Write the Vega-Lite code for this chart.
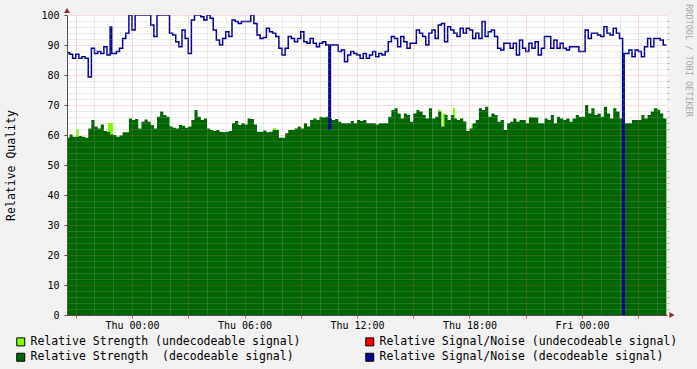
{
  "$schema": "https://vega.github.io/schema/vega-lite/v6.json",
  "width": 600,
  "height": 300,
  "autosize": {"type": "none"},
  "padding": {"left": 67, "top": 15, "right": 30, "bottom": 54},
  "background": "#f2f2f2",
  "config": {
    "view": {"fill": "#ffffff", "strokeWidth": 0},
    "axis": {"labelFont": "DejaVu Sans Mono", "titleFont": "DejaVu Sans Mono", "labelColor": "#000000", "titleColor": "#000000", "titleFontWeight": "normal"}
  },
  "datasets": {
    "quality": [
      {"t":1230,"s":59.1,"n":87.4},{"t":1240,"s":60.2,"n":86.9},{"t":1250,"s":59.4,"n":85.6},
      {"t":1260,"s":59.4,"n":86.9},{"t":1270,"s":59.7,"n":85.6},{"t":1280,"s":59.4,"n":86.1},
      {"t":1290,"s":59.1,"n":85.6},{"t":1300,"s":62.2,"n":79.3},{"t":1310,"s":65.0,"n":88.9},
      {"t":1320,"s":62.8,"n":87.2},{"t":1330,"s":62.2,"n":87.8},{"t":1340,"s":63.5,"n":87.2},
      {"t":1350,"s":61.3,"n":89.4},{"t":1360,"s":61.1,"n":86.7},{"t":1370,"s":60.2,"n":96.0},
      {"t":1375,"s":60.2,"n":87.2},
      {"t":1380,"s":60.0,"n":87.2},{"t":1390,"s":59.4,"n":87.8},{"t":1400,"s":59.8,"n":88.9},
      {"t":1410,"s":60.9,"n":92.2},{"t":1420,"s":60.9,"n":93.9},{"t":1430,"s":65.5,"n":100},
      {"t":1440,"s":65.0,"n":95.0},{"t":1450,"s":65.3,"n":100},{"t":1460,"s":62.2,"n":100},
      {"t":1470,"s":64.4,"n":100},{"t":1480,"s":65.2,"n":100},{"t":1490,"s":64.4,"n":100},
      {"t":1500,"s":63.3,"n":96.7},{"t":1510,"s":62.2,"n":92.8},{"t":1520,"s":66.1,"n":100},
      {"t":1530,"s":67.8,"n":100},{"t":1540,"s":66.7,"n":100},{"t":1550,"s":66.1,"n":100},
      {"t":1560,"s":62.8,"n":93.9},{"t":1570,"s":62.4,"n":93.3},{"t":1580,"s":62.2,"n":91.1},
      {"t":1590,"s":63.3,"n":89.4},{"t":1600,"s":63.1,"n":95.0},{"t":1610,"s":62.4,"n":92.2},
      {"t":1620,"s":62.8,"n":87.2},{"t":1630,"s":65.0,"n":98.3},{"t":1640,"s":68.3,"n":100},
      {"t":1650,"s":66.1,"n":100},{"t":1660,"s":65.0,"n":99.4},{"t":1670,"s":65.5,"n":98.3},
      {"t":1680,"s":62.2,"n":100},{"t":1690,"s":61.7,"n":98.9},{"t":1700,"s":61.3,"n":95.0},
      {"t":1710,"s":61.7,"n":91.7},{"t":1720,"s":61.1,"n":90.0},{"t":1730,"s":60.9,"n":92.2},
      {"t":1740,"s":61.1,"n":94.4},{"t":1750,"s":61.3,"n":92.8},{"t":1760,"s":63.9,"n":98.3},
      {"t":1770,"s":64.7,"n":97.8},{"t":1780,"s":63.3,"n":97.2},{"t":1790,"s":63.9,"n":97.8},
      {"t":1800,"s":63.5,"n":97.8},{"t":1810,"s":65.5,"n":97.8},{"t":1820,"s":65.3,"n":100},
      {"t":1830,"s":63.5,"n":97.2},{"t":1840,"s":61.1,"n":93.3},{"t":1850,"s":61.1,"n":92.2},
      {"t":1860,"s":61.5,"n":92.5},{"t":1870,"s":60.9,"n":95.6},{"t":1880,"s":61.1,"n":94.4},
      {"t":1890,"s":61.7,"n":93.9},{"t":1900,"s":61.7,"n":92.8},{"t":1910,"s":59.1,"n":88.9},
      {"t":1920,"s":59.1,"n":86.7},{"t":1930,"s":60.6,"n":88.9},{"t":1940,"s":61.7,"n":92.8},
      {"t":1950,"s":61.7,"n":92.2},{"t":1960,"s":62.2,"n":91.1},{"t":1970,"s":62.8,"n":92.2},
      {"t":1980,"s":62.2,"n":94.4},{"t":1990,"s":63.9,"n":91.1},{"t":2000,"s":62.8,"n":90.6},
      {"t":2010,"s":65.0,"n":92.2},{"t":2020,"s":65.5,"n":90.6},{"t":2030,"s":65.0,"n":89.4},
      {"t":2040,"s":66.1,"n":90.6},{"t":2050,"s":65.8,"n":91.1},{"t":2060,"s":66.1,"n":90.0},
      {"t":2070,"s":65.5,"n":62.0},{"t":2075,"s":65.5,"n":90.0},
      {"t":2080,"s":65.0,"n":90.0},{"t":2090,"s":65.3,"n":90.0},
      {"t":2100,"s":64.4,"n":87.8},{"t":2110,"s":63.9,"n":88.3},{"t":2120,"s":63.9,"n":84.4},
      {"t":2130,"s":63.9,"n":86.7},{"t":2140,"s":64.7,"n":87.8},{"t":2150,"s":63.9,"n":87.2},
      {"t":2160,"s":65.0,"n":86.7},{"t":2170,"s":64.7,"n":85.6},{"t":2180,"s":65.0,"n":87.2},
      {"t":2190,"s":63.9,"n":85.6},{"t":2200,"s":63.9,"n":86.7},{"t":2210,"s":63.9,"n":87.8},
      {"t":2220,"s":63.5,"n":86.1},{"t":2230,"s":63.9,"n":87.2},{"t":2240,"s":63.9,"n":86.7},
      {"t":2250,"s":63.9,"n":87.8},{"t":2260,"s":66.1,"n":91.1},{"t":2270,"s":68.3,"n":92.8},
      {"t":2280,"s":68.9,"n":92.2},{"t":2290,"s":67.2,"n":89.4},{"t":2300,"s":65.5,"n":92.8},
      {"t":2310,"s":67.2,"n":91.1},{"t":2320,"s":66.7,"n":88.9},{"t":2330,"s":64.4,"n":90.6},
      {"t":2340,"s":67.2,"n":90.6},{"t":2350,"s":68.3,"n":95.0},{"t":2360,"s":67.8,"n":93.9},
      {"t":2370,"s":66.7,"n":92.8},{"t":2380,"s":65.5,"n":90.0},{"t":2390,"s":68.9,"n":93.9},
      {"t":2400,"s":65.5,"n":95.0},{"t":2410,"s":66.1,"n":92.2},{"t":2420,"s":67.8,"n":96.7},
      {"t":2430,"s":62.8,"n":97.2},{"t":2440,"s":66.7,"n":91.1},{"t":2450,"s":65.0,"n":96.1},
      {"t":2460,"s":66.7,"n":95.0},{"t":2470,"s":65.5,"n":93.9},{"t":2480,"s":65.0,"n":92.8},
      {"t":2490,"s":65.5,"n":95.6},{"t":2500,"s":64.5,"n":93.9},{"t":2510,"s":61.3,"n":95.6},
      {"t":2520,"s":62.2,"n":95.0},{"t":2530,"s":63.9,"n":92.2},{"t":2540,"s":65.0,"n":93.9},
      {"t":2550,"s":68.9,"n":92.2},{"t":2560,"s":68.3,"n":97.8},{"t":2570,"s":69.4,"n":92.8},
      {"t":2580,"s":66.1,"n":94.4},{"t":2590,"s":67.2,"n":95.0},{"t":2600,"s":66.7,"n":92.8},
      {"t":2610,"s":64.4,"n":88.9},{"t":2620,"s":65.0,"n":88.3},{"t":2630,"s":61.7,"n":90.6},
      {"t":2640,"s":63.9,"n":90.6},{"t":2650,"s":64.4,"n":88.9},{"t":2660,"s":65.5,"n":90.6},
      {"t":2670,"s":64.4,"n":86.7},{"t":2680,"s":65.0,"n":91.7},{"t":2690,"s":65.0,"n":88.9},
      {"t":2700,"s":63.9,"n":87.8},{"t":2710,"s":65.8,"n":90.6},{"t":2720,"s":65.8,"n":88.9},
      {"t":2730,"s":65.8,"n":91.1},{"t":2740,"s":63.9,"n":86.7},{"t":2750,"s":63.9,"n":88.9},
      {"t":2760,"s":65.5,"n":92.8},{"t":2770,"s":65.0,"n":92.8},{"t":2780,"s":66.7,"n":88.9},
      {"t":2790,"s":63.9,"n":91.7},{"t":2800,"s":66.1,"n":88.9},{"t":2810,"s":65.5,"n":90.6},
      {"t":2820,"s":65.0,"n":88.9},{"t":2830,"s":65.5,"n":88.3},{"t":2840,"s":64.4,"n":89.4},
      {"t":2850,"s":65.5,"n":89.4},{"t":2860,"s":66.7,"n":89.4},{"t":2870,"s":66.1,"n":87.8},
      {"t":2880,"s":66.1,"n":87.8},{"t":2890,"s":70.0,"n":95.0},{"t":2900,"s":67.2,"n":92.2},
      {"t":2910,"s":68.9,"n":93.9},{"t":2920,"s":66.7,"n":93.9},{"t":2930,"s":67.2,"n":93.3},
      {"t":2940,"s":66.1,"n":92.8},{"t":2950,"s":69.4,"n":96.1},{"t":2960,"s":67.2,"n":93.9},
      {"t":2970,"s":65.5,"n":93.3},{"t":2980,"s":68.9,"n":95.6},{"t":2990,"s":67.8,"n":93.9},
      {"t":3000,"s":65.5,"n":92.2},{"t":3010,"s":63.9,"n":0},{"t":3015,"s":63.9,"n":87.2},
      {"t":3020,"s":63.9,"n":87.2},
      {"t":3030,"s":63.9,"n":88.3},{"t":3040,"s":65.0,"n":86.1},{"t":3050,"s":65.0,"n":88.3},
      {"t":3060,"s":65.0,"n":87.8},{"t":3070,"s":66.7,"n":86.1},{"t":3080,"s":65.5,"n":89.4},
      {"t":3090,"s":66.7,"n":92.2},{"t":3100,"s":67.8,"n":89.4},{"t":3110,"s":68.9,"n":92.2},
      {"t":3120,"s":68.3,"n":92.2},{"t":3130,"s":67.2,"n":91.7},{"t":3140,"s":65.5,"n":90.0},
      {"t":3150,"s":65.5,"n":90.0}
    ],
    "undecodeable": [
      {"t":1262,"t2":1269,"u":62.0},
      {"t":1363,"t2":1379,"u":64.0},
      {"t":1891,"t2":1901,"u":62.3},
      {"t":2419,"t2":2426,"u":68.5},
      {"t":2434,"t2":2446,"u":67.2},
      {"t":2467,"t2":2474,"u":69.0},
      {"t":2490,"t2":2499,"u":65.6},
      {"t":2526,"t2":2533,"u":63.6},
      {"t":2712,"t2":2718,"u":66.2},
      {"t":3117,"t2":3125,"u":68.9}
    ]
  },
  "resolve": {"axis": {"x": "independent", "y": "independent"}},
  "layer": [
    {
      "data": {"name": "undecodeable"},
      "mark": {"type": "rect", "clip": true},
      "encoding": {
        "x": {"field": "t", "type": "quantitative", "axis": null, "scale": {"domain": [1232, 3152], "nice": false, "zero": false}},
        "x2": {"field": "t2"},
        "y": {"field": "u", "type": "quantitative", "axis": null, "scale": {"domain": [0, 100], "nice": false}},
        "y2": {"datum": 0},
        "color": {"datum": "Relative Strength (undecodeable signal)"}
      }
    },
    {
      "data": {"name": "quality"},
      "mark": {"type": "area", "interpolate": "step-after", "clip": true, "opacity": 1},
      "encoding": {
        "x": {"field": "t", "type": "quantitative",
              "scale": {"domain": [1232, 3152], "nice": false, "zero": false},
              "axis": {"orient": "bottom", "title": null,
                       "values": [1260, 1440, 1620, 1800, 1980, 2160, 2340, 2520, 2700, 2880, 3060],
                       "labelExpr": "datum.value % 360 == 0 ? (['Wed','Thu','Fri'][floor(datum.value / 1440)] + ' ' + (floor((datum.value % 1440) / 60) < 10 ? '0' : '') + floor((datum.value % 1440) / 60) + ':00') : ''",
                       "labelOverlap": false, "labelFlush": false,
                       "labelFontSize": 10, "labelPadding": 2,
                       "grid": true, "gridColor": "#e06060", "gridOpacity": 0.45, "gridDash": [1, 1],
                       "tickColor": "#e06060", "tickSize": 3,
                       "domainColor": "#505050", "zindex": 1}},
        "y": {"field": "s", "type": "quantitative",
              "scale": {"domain": [0, 100], "nice": false},
              "axis": {"orient": "left", "title": "Relative Quality",
                       "values": [0, 10, 20, 30, 40, 50, 60, 70, 80, 90, 100],
                       "labelFontSize": 10, "labelPadding": 5,
                       "grid": true, "gridColor": "#e06060", "gridOpacity": 0.45, "gridDash": [1, 1],
                       "tickColor": "#505050", "tickSize": 3, "domainColor": "#505050",
                       "titleFontSize": 11.5, "titleX": -56, "titleY": 150, "titleAngle": -90,
                       "titleAlign": "center", "titleBaseline": "middle", "zindex": 1}},
        "color": {"datum": "Relative Strength \u00a0(decodeable signal)",
                  "scale": {"domain": ["Relative Strength (undecodeable signal)", "Relative Strength \u00a0(decodeable signal)", "Relative Signal/Noise (undecodeable signal)", "Relative Signal/Noise (decodeable signal)"],
                            "range": ["#80ff00", "#006600", "#ff0000", "#000099"]},
                  "legend": {"orient": "none", "legendX": -52, "legendY": 321, "columns": 2,
                             "columnPadding": 62, "rowPadding": 2.5, "title": null,
                             "symbolType": "square", "symbolSize": 64,
                             "symbolStrokeColor": "#000000", "symbolStrokeWidth": 1, "symbolOpacity": 1,
                             "labelFont": "DejaVu Sans Mono", "labelFontSize": 11.5, "labelColor": "#000000",
                             "labelLimit": 500, "labelOffset": 4, "padding": 0}}
      }
    },
    {
      "data": {"name": "quality"},
      "mark": {"type": "line", "interpolate": "step-after", "clip": true, "color": "#000099", "strokeWidth": 1.5},
      "encoding": {
        "x": {"field": "t", "type": "quantitative",
              "scale": {"domain": [1232, 3152], "nice": false, "zero": false},
              "axis": {"orient": "top", "title": null, "labels": false, "ticks": false, "domain": false,
                       "values": [1320, 1380, 1500, 1560, 1680, 1740, 1860, 1920, 2040, 2100, 2220, 2280, 2400, 2460, 2580, 2640, 2760, 2820, 2940, 3000, 3120],
                       "grid": true, "gridColor": "#a8a8a8", "gridOpacity": 0.45, "gridDash": [1, 1], "zindex": 1}},
        "y": {"field": "n", "type": "quantitative",
              "scale": {"domain": [0, 100], "nice": false},
              "axis": {"orient": "right", "title": "RRDTOOL / TOBI OETIKER", "labels": false,
                       "values": [2,4,6,8,12,14,16,18,22,24,26,28,32,34,36,38,42,44,46,48,52,54,56,58,62,64,66,68,72,74,76,78,82,84,86,88,92,94,96,98],
                       "ticks": true, "tickSize": 2, "tickColor": "#b0b0b0", "domain": false,
                       "grid": true, "gridColor": "#a8a8a8", "gridOpacity": 0.45, "gridDash": [1, 1],
                       "titleAngle": 90, "titleFontSize": 8.5, "titleColor": "#a8a8a8",
                       "titleX": 21, "titleY": 45, "titleAlign": "center", "titleBaseline": "middle", "zindex": 1}}
      }
    },
    {
      "data": {"values": [{"k": 1}]},
      "mark": {"type": "point", "shape": "triangle-up", "filled": true, "color": "#a03030", "size": 36, "opacity": 1, "clip": false},
      "encoding": {
        "x": {"datum": 1232, "type": "quantitative", "axis": null, "scale": {"domain": [1232, 3152], "nice": false, "zero": false}},
        "y": {"datum": 101.5, "type": "quantitative", "axis": null, "scale": {"domain": [0, 100], "nice": false}}
      }
    },
    {
      "data": {"values": [{"k": 1}]},
      "mark": {"type": "point", "shape": "triangle-right", "filled": true, "color": "#a03030", "size": 36, "opacity": 1, "clip": false},
      "encoding": {
        "x": {"datum": 3168, "type": "quantitative", "axis": null, "scale": {"domain": [1232, 3152], "nice": false, "zero": false}},
        "y": {"datum": 0, "type": "quantitative", "axis": null, "scale": {"domain": [0, 100], "nice": false}}
      }
    }
  ]
}
